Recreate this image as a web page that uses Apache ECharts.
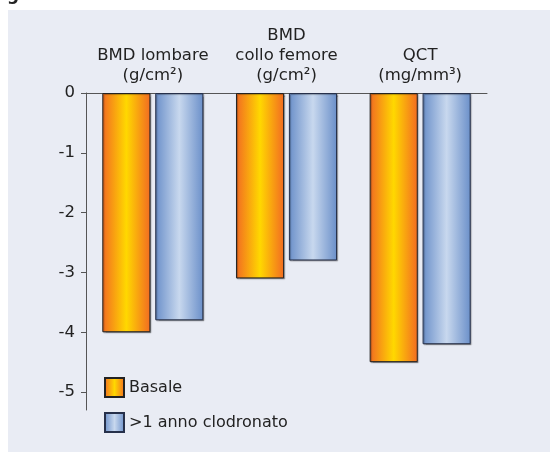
<!DOCTYPE html>
<html>
<head>
<meta charset="utf-8">
<script src="https://cdn.jsdelivr.net/npm/echarts@6/dist/echarts.min.js"></script>
<style>
  html, body { margin: 0; padding: 0; background: #fff; }
  #chart { width: 550px; height: 452px; }
</style>
</head>
<body>
<div id="chart"></div>
<script>
// categorie e valori
var categories = ['BMD lombare\n(g/cm²)', 'BMD\ncollo femore\n(g/cm²)', 'QCT\n(mg/mm³)'];
var basale = [-4.0, -3.1, -4.5];
var clodronato = [-3.8, -2.8, -4.2];
var yTicks = [0, -1, -2, -3, -4, -5];
var seriesNames = ['Basale', '>1 anno clodronato'];

var font = 'DejaVu Sans';

function grad(edge, mid) {
  // gradiente orizzontale: bordo - centro - bordo
  return new echarts.graphic.LinearGradient(0, 0, 1, 0, [
    { offset: 0, color: edge },
    { offset: 0.5, color: mid },
    { offset: 1, color: edge }
  ], false);
}

var myChart = echarts.init(document.getElementById('chart'));
myChart.setOption({
  backgroundColor: '#fff',
  animation: false,
  graphic: [
    {
      type: 'rect',
      shape: { x: 8, y: 10, width: 542, height: 442 },
      style: { fill: '#e9ecf4' },
      z: -10
    },
    {
      type: 'text',
      left: 7,
      top: -13,
      style: { text: 'g', font: 'bold 17px ' + font, fill: '#222' }
    }
  ],
  legend: {
    orient: 'vertical',
    left: 99,
    top: 372,
    itemWidth: 19,
    itemHeight: 19,
    itemGap: 14,
    icon: 'rect',
    textStyle: { fontFamily: font, fontSize: 16, color: '#222' },
    data: seriesNames
  },
  grid: {
    left: 86,
    right: 63,
    top: 93,
    height: 317,
    containLabel: false
  },
  xAxis: {
    type: 'category',
    position: 'top',
    data: categories,
    axisLine: { show: true, lineStyle: { color: '#555', width: 1 } },
    axisTick: { show: false },
    axisLabel: {
      interval: 0,
      margin: 7,
      fontFamily: font,
      fontSize: 16.5,
      lineHeight: 20,
      color: '#222'
    }
  },
  yAxis: {
    type: 'value',
    min: -5.3,
    max: 0,
    splitLine: { show: false },
    axisLine: { show: true, lineStyle: { color: '#555', width: 1 } },
    axisTick: { show: true, length: 5, customValues: yTicks, lineStyle: { color: '#555' } },
    axisLabel: {
      customValues: yTicks,
      margin: 11,
      fontFamily: font,
      fontSize: 16.5,
      color: '#222'
    }
  },
  series: [
    {
      name: seriesNames[0],
      type: 'bar',
      data: basale,
      barWidth: '36%',
      barGap: '10%',
      itemStyle: {
        color: grad('#f26b22', '#ffd800'),
        borderColor: '#222',
        borderWidth: 1,
        shadowColor: 'rgba(0,0,0,0.3)',
        shadowBlur: 1,
        shadowOffsetX: 1,
        shadowOffsetY: 1
      }
    },
    {
      name: seriesNames[1],
      type: 'bar',
      data: clodronato,
      barWidth: '36%',
      itemStyle: {
        color: grad('#6a8fc9', '#c8d8ee'),
        borderColor: '#26304a',
        borderWidth: 1,
        shadowColor: 'rgba(0,0,0,0.3)',
        shadowBlur: 1,
        shadowOffsetX: 1,
        shadowOffsetY: 1
      }
    }
  ]
});
</script>
</body>
</html>
